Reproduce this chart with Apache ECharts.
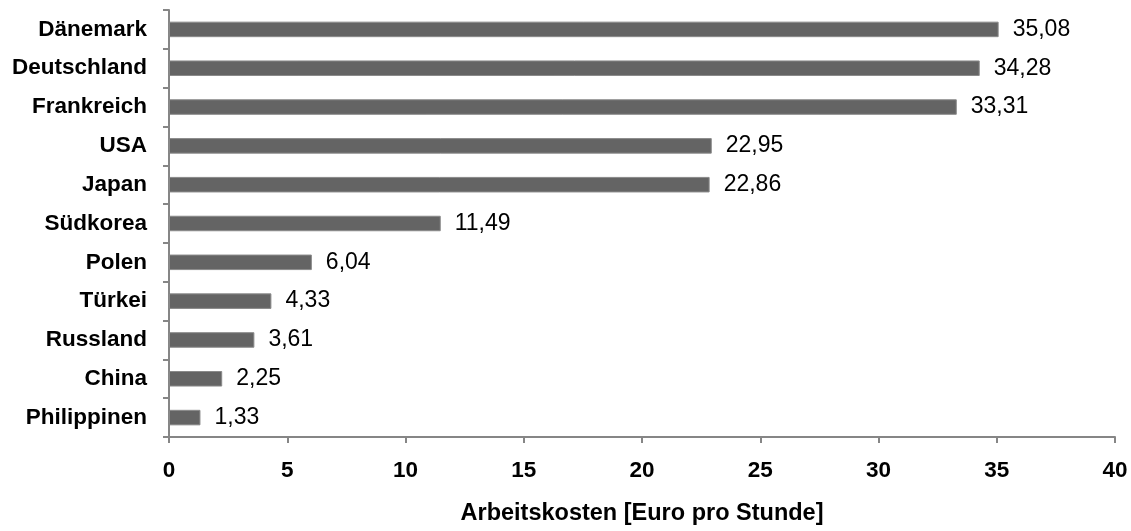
<!DOCTYPE html>
<html lang="de">
  <head>
    <meta charset="UTF-8" />
    <title>Arbeitskosten</title>
    <script src="https://cdn.jsdelivr.net/npm/echarts@6/dist/echarts.min.js"></script>
    <style>
      html, body { margin: 0; padding: 0; background: #fff; }
      .echarts { width: 1131px; height: 531px; }
    </style>
  </head>
  <body>
    <div class="echarts"></div>
    <script>
      const countries = ['Dänemark', 'Deutschland', 'Frankreich', 'USA', 'Japan', 'Südkorea', 'Polen', 'Türkei', 'Russland', 'China', 'Philippinen']
      const costs = [35.08, 34.28, 33.31, 22.95, 22.86, 11.49, 6.04, 4.33, 3.61, 2.25, 1.33]
      const xTicks = [0, 5, 10, 15, 20, 25, 30, 35, 40]

      const font = 'Liberation Sans, Arial, sans-serif'
      const myCharts = echarts.init(document.querySelector('.echarts'))
      const option = {
        animation: false,
        grid: { left: 169, right: 16, top: 10, bottom: 91, containLabel: false },
        xAxis: {
          type: 'value',
          min: xTicks[0],
          max: xTicks[xTicks.length - 1],
          interval: 5,
          name: 'Arbeitskosten [Euro pro Stunde]',
          nameLocation: 'middle',
          nameGap: 65,
          nameTextStyle: { fontFamily: font, fontSize: 23.5, fontWeight: 'bold', color: '#000' },
          axisLine: { show: true, lineStyle: { color: '#868686', width: 2 } },
          axisTick: { show: true, length: 6, lineStyle: { color: '#868686', width: 2 } },
          axisLabel: { margin: 22, fontFamily: font, fontSize: 22.5, fontWeight: 'bold', color: '#000' },
          splitLine: { show: false }
        },
        yAxis: {
          type: 'category',
          data: countries,
          inverse: true,
          axisLine: { show: true, lineStyle: { color: '#868686', width: 2 } },
          axisTick: { show: true, length: 6, lineStyle: { color: '#868686', width: 2 } },
          axisLabel: { margin: 22, fontFamily: font, fontSize: 22.5, fontWeight: 'bold', color: '#000' }
        },
        series: [{
          type: 'bar',
          data: costs,
          barCategoryGap: '60%',
          itemStyle: { color: '#646464', borderColor: '#8a8a8a', borderWidth: 1 },
          label: {
            show: true,
            position: 'right',
            distance: 14,
            fontFamily: font,
            fontSize: 23,
            color: '#000',
            formatter: p => p.value.toFixed(2).replace('.', ',')
          }
        }]
      }
      myCharts.setOption(option)
    </script>
  </body>
</html>
